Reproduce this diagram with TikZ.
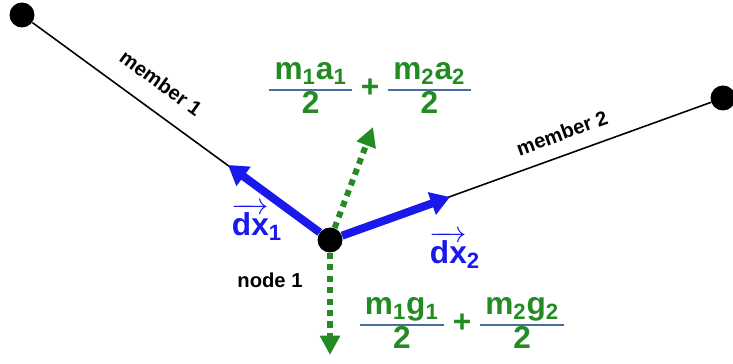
\documentclass[tikz,border=0pt]{standalone}
\usepackage{fontspec}
\setmainfont{Liberation Sans}
\usepackage{colortbl}
\usetikzlibrary{arrows.meta}
\definecolor{forcegreen}{RGB}{34,139,34}
\definecolor{dispblue}{RGB}{25,25,235}
\definecolor{fracline}{RGB}{70,110,160}
\arrayrulecolor{fracline}
\setlength{\arrayrulewidth}{1.2pt}
\renewcommand{\arraystretch}{0.9}
\newcommand{\half}[1]{\begin{tabular}{@{\hspace{3pt}}c@{\hspace{3pt}}}#1\\\hline 2\end{tabular}}
\begin{document}
\begin{tikzpicture}[x=0.02cm, y=0.02cm,
        dot/.style={circle, fill=black, inner sep=0pt, minimum size=0.5cm},
        member/.style={draw=black, line width=0.9pt},
        disp/.style={-{Triangle[length=11pt, width=13pt]}, line width=4.6pt, draw=dispblue},
        force/.style={-{Triangle[length=11pt, width=11pt]}, line width=3.4pt, draw=forcegreen, dash pattern=on 3.5pt off 3pt},
        lbl/.style={font=\fontsize{11.5}{13}\selectfont\bfseries},
        big/.style={font=\fontsize{18}{20}\selectfont\bfseries}
    ]
    \useasboundingbox (0,0) rectangle (733,364);

    \node[dot] (end1) at (22,349) {};
    \node[dot] (n1) at (330,124) {};
    \node[dot] (end2) at (723,266) {};
    \coordinate (tip1) at (228,199);
    \coordinate (tip2) at (450,167);
    \coordinate (up) at (373,237);
    \coordinate (down) at (330,9);

    \draw[member] (end1) -- (n1);
    \draw[member] (n1) -- (end2);
    \draw[disp] (n1) -- (tip1);
    \draw[disp] (n1) -- (tip2);
    \draw[force] (n1) -- (up);
    \draw[force] (n1) -- (down);

    \node[lbl, rotate=-36] (m1lbl) at (161,281) {member 1};
    \node[lbl, rotate=20] (m2lbl) at (562,231) {member 2};
    \node[lbl] (n1lbl) at (270,84) {node 1};
    \node[big, text=dispblue] (dx1) at (257,142) {$\overrightarrow{\mbox{dx}}$\textsubscript{1}};
    \node[big, text=dispblue] (dx2) at (455,114) {$\overrightarrow{\mbox{dx}}$\textsubscript{2}};

    \node[big, text=forcegreen] (inertia) at (370,274) {\half{m\textsubscript{1}a\textsubscript{1}} + \half{m\textsubscript{2}a\textsubscript{2}}};
    \node[big, text=forcegreen] (gravity) at (462,39) {\half{m\textsubscript{1}g\textsubscript{1}} + \half{m\textsubscript{2}g\textsubscript{2}}};
\end{tikzpicture}
\end{document}
